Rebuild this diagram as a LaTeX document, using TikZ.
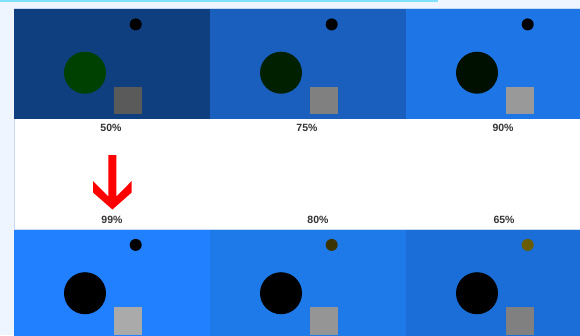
\documentclass[tikz,border=0pt]{standalone}
\usepackage{fontspec}
\setmainfont{Liberation Sans}
\definecolor{pageblue}{HTML}{EEF5FF}
\definecolor{topcyan}{HTML}{80E0FF}
\definecolor{edgeblue}{HTML}{C6DAF2}
\definecolor{labelgray}{HTML}{333333}
\definecolor{arrowred}{HTML}{FF0000}
\definecolor{pA}{HTML}{0F3F7F}
\definecolor{pB}{HTML}{1A5FBE}
\definecolor{pC}{HTML}{1E76E6}
\definecolor{pD}{HTML}{2080FF}
\definecolor{pE}{HTML}{1E7AE8}
\definecolor{pF}{HTML}{1B6ED8}
\definecolor{cA}{HTML}{004000}
\definecolor{cB}{HTML}{002000}
\definecolor{cC}{HTML}{001000}
\definecolor{dE}{HTML}{3C3400}
\definecolor{dF}{HTML}{6A5C00}
\definecolor{sA}{HTML}{5A5A5A}
\definecolor{sB}{HTML}{808080}
\definecolor{sC}{HTML}{999999}
\definecolor{sD}{HTML}{AAAAAA}
\definecolor{sE}{HTML}{959595}
\definecolor{sF}{HTML}{808080}
\tikzset{
  pct/.style={text=labelgray, font=\fontsize{10.5}{12}\selectfont\bfseries, inner sep=0pt, anchor=center},
}
% panel: #1 x-left, #2 y-top, #3 bg, #4 circle, #5 dot, #6 square
\newcommand{\mypanel}[6]{%
  \fill[#3] (#1,#2) rectangle ++(196,110);
  \fill[#4] ({#1+71},{#2+63.7}) circle[radius=21];
  \fill[#5] ({#1+121.7},{#2+15.4}) circle[radius=6];
  \fill[#6] ({#1+100.3},{#2+77.5}) rectangle ++(27.8,27.5);
}
\begin{document}
\begin{tikzpicture}[x=1pt,y=-1pt]
\useasboundingbox (0,0) rectangle (580,335);
\clip (0,0) rectangle (580,335);
\fill[pageblue] (0,0) rectangle (580,335);
\fill[topcyan] (0,0) rectangle (438,2);
\fill[white] (14,8.5) rectangle (580,335);
\draw[edgeblue, line width=0.8pt] (14,8.5) -- (580,8.5);
\draw[edgeblue, line width=0.8pt] (14,8.5) -- (14,335);
% top row
\mypanel{14}{9}{pA}{cA}{black}{sA}
\mypanel{210}{9}{pB}{cB}{black}{sB}
\mypanel{406}{9}{pC}{cC}{black}{sC}
% bottom row
\draw[edgeblue, line width=0.8pt] (14,229) -- (580,229);
\mypanel{14}{229.5}{pD}{black}{black}{sD}
\mypanel{210}{229.5}{pE}{black}{dE}{sE}
\mypanel{406}{229.5}{pF}{black}{dF}{sF}
% labels
\node[pct] (l50) at (111,127.5) {50\%};
\node[pct] (l75) at (307,127.5) {75\%};
\node[pct] (l90) at (503,127.5) {90\%};
\node[pct] (l99) at (112,219.5) {99\%};
\node[pct] (l80) at (318,219.5) {80\%};
\node[pct] (l65) at (504,219.5) {65\%};
% red arrow
\fill[arrowred] (108.4,155) -- (116.4,155) -- (116.4,196.5) -- (131.7,181) -- (131.7,192.5)
  -- (112.4,209.5) -- (93,192.5) -- (93,181) -- (108.4,196.5) -- cycle;
\end{tikzpicture}
\end{document}
